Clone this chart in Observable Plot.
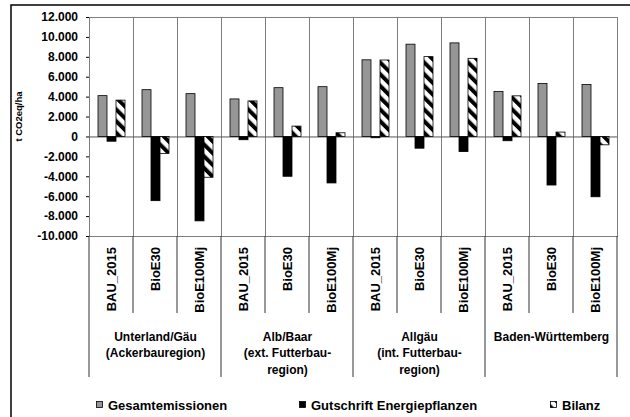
<!DOCTYPE html>
<html><head><meta charset="utf-8">
<script src="https://cdn.jsdelivr.net/npm/d3@7"></script>
<script src="https://cdn.jsdelivr.net/npm/@observablehq/plot@0.6"></script>
<style>body{margin:0;background:#fff;}</style>
</head><body><div id="chart"></div>
<script>
const groups = ["Unterland/Gäu\n(Ackerbauregion)", "Alb/Baar\n(ext. Futterbau-\nregion)", "Allgäu\n(int. Futterbau-\nregion)", "Baden-Württemberg"];
const scenarios = ["BAU_2015", "BioE30", "BioE100Mj"];
const seriesNames = ["Gesamtemissionen", "Gutschrift Energiepflanzen", "Bilanz"];
const gesamt     = [4100, 4700, 4300, 3770, 4900, 5000, 7700, 9270, 9400, 4520, 5330, 5220];
const gutschrift = [-480, -6450, -8480, -330, -4000, -4670, -130, -1180, -1520, -430, -4880, -6060];
const bilanz     = [3650, -1700, -4100, 3570, 1040, 370, 7680, 8020, 7850, 4080, 440, -840];
const yTicks = [-10000, -8000, -6000, -4000, -2000, 0, 2000, 4000, 6000, 8000, 10000, 12000];
const yLabel = "t CO2eq/ha";

const categories = groups.flatMap((g, gi) => scenarios.map(s => ({key: gi + "|" + s, group: g, scenario: s})));
const keys = categories.map(d => d.key);
const seriesValues = [gesamt, gutschrift, bilanz];
const data = seriesNames.flatMap((name, si) => categories.map((c, ci) => ({key: c.key, series: name, value: seriesValues[si][ci]})));
const groupLabels = groups.map((g, gi) => ({key: keys[gi * 3 + 1], label: g}));
const fmt = d3.formatLocale({decimal: ",", thousands: ".", grouping: [3], currency: ["", ""], minus: "-"}).format(",");

const plot = Plot.plot({
  width: 630, height: 417,
  marginLeft: 85, marginRight: 9, marginTop: 17, marginBottom: 181,
  style: {fontFamily: "'Liberation Sans', Arial, sans-serif", fontWeight: "bold", fontSize: "12px", color: "black", background: "white"},
  fx: {domain: keys, padding: 0, axis: null, label: null},
  x: {domain: seriesNames, paddingInner: 0, paddingOuter: 0.735, axis: null},
  y: {domain: [-10000, 12000], ticks: yTicks, tickFormat: fmt, tickSize: 3, tickPadding: 8.5, label: null},
  color: {domain: seriesNames, range: ["#969696", "#000000", "url(#hatch)"]},
  marks: [
    Plot.frame({stroke: "#7f7f7f"}),
    Plot.ruleY([0], {stroke: "#555"}),
    Plot.barY(data, {fx: "key", x: "series", y: "value", fill: "series", stroke: "#000", strokeWidth: 0.8}),
    Plot.text(categories, {fx: "key", text: "scenario", frameAnchor: "bottom", rotate: -90, textAnchor: "end", lineAnchor: "middle", dy: 10.5, fontSize: 13}),
    Plot.text(groupLabels, {fx: "key", text: "label", frameAnchor: "bottom", lineAnchor: "top", dy: 93, fontSize: 12, lineHeight: 1.36})
  ]
});
document.getElementById("chart").appendChild(plot);

const svgEl = plot.tagName.toLowerCase() === "svg" ? plot : plot.querySelector("svg");
const svg = d3.select(svgEl);
const defs = svg.insert("defs", ":first-child");
const pat = defs.append("pattern").attr("id", "hatch").attr("patternUnits", "userSpaceOnUse")
  .attr("width", 8.3).attr("height", 8.3).attr("patternTransform", "rotate(-45)");
pat.append("rect").attr("width", 8.3).attr("height", 8.3).attr("fill", "white");
pat.append("rect").attr("width", 4).attr("height", 8.3).attr("fill", "black");

const fx = plot.scale("fx");
const y = plot.scale("y");
const yBottom = y.apply(-10000);
const bounds = keys.map(k => fx.apply(k)).concat([fx.apply(keys[keys.length - 1]) + fx.bandwidth]);
const g = svg.append("g").attr("stroke", "#333").attr("stroke-width", 1);
bounds.forEach((bx, i) => {
  g.append("line").attr("x1", bx).attr("x2", bx).attr("y1", yBottom).attr("y2", yBottom + (i % 3 === 0 ? 141 : 77));
});

svg.append("text").attr("transform", `translate(19,${y.apply(2000)}) rotate(-90)`)
  .attr("text-anchor", "middle").attr("dy", "0.35em").style("font-size", "9.5px").text(yLabel);

svg.append("rect").attr("x", 11).attr("y", 5).attr("width", 700).attr("height", 500)
  .attr("fill", "none").attr("stroke", "#000").attr("stroke-width", 1.5);

const legendX = [96, 299, 550];
const legendFill = ["#969696", "#000000", "url(#hatch)"];
const lg = svg.append("g").style("font-size", "13px");
seriesNames.forEach((name, i) => {
  lg.append("rect").attr("x", legendX[i] + 0.5).attr("y", 401.5).attr("width", 6).attr("height", 6)
    .attr("fill", legendFill[i]).attr("stroke", "#000").attr("stroke-width", 0.8);
  lg.append("text").attr("x", legendX[i] + 12).attr("y", 409.5).attr("text-anchor", "start").text(name);
});
</script>
</body></html>
